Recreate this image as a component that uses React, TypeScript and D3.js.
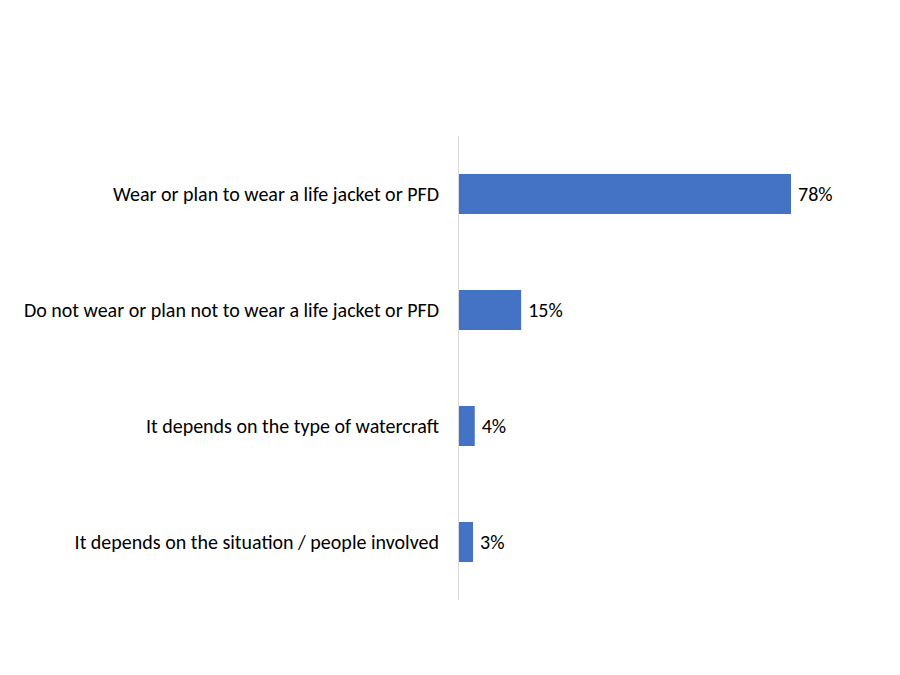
import { useRef, useEffect } from 'react';
import { select, scaleLinear, scaleBand } from 'd3';

// Chart data
const categories = [
    'Wear or plan to wear a life jacket or PFD',
    'Do not wear or plan not to wear a life jacket or PFD',
    'It depends on the type of watercraft',
    'It depends on the situation / people involved',
];
const values = [78, 14.6, 3.7, 3.3];
const valueLabels = ['78%', '15%', '4%', '3%'];

function App() {
    const graphRef = useRef<SVGSVGElement | null>(null);

    // Set dimensions
    const width = 900;
    const height = 675;
    const axisX = 459;
    const top = 136;
    const bottom = 600;

    useEffect(() => {
        const graph = select(graphRef.current);
        graph.selectAll('*').remove();

        const x = scaleLinear().domain([0, 78]).range([axisX, 791]);
        const y = scaleBand<number>()
            .domain(categories.map((_, i) => i))
            .range([top, bottom])
            .paddingInner(0.655)
            .paddingOuter(0.3275);

        const font = 'Carlito, Calibri, "Liberation Sans", sans-serif';

        // Bars
        graph
            .append('g')
            .selectAll('rect')
            .data(values)
            .join('rect')
            .attr('x', x(0))
            .attr('y', (d, i) => y(i) as number)
            .attr('width', (d) => x(d) - x(0))
            .attr('height', y.bandwidth())
            .attr('fill', '#4472C4');

        // Axis line
        graph
            .append('line')
            .attr('x1', axisX - 0.5)
            .attr('x2', axisX - 0.5)
            .attr('y1', top)
            .attr('y2', bottom)
            .attr('stroke', '#D9D9D9')
            .attr('stroke-width', 1);

        // Category labels
        graph
            .append('g')
            .selectAll('text')
            .data(categories)
            .join('text')
            .text((d) => d)
            .attr('x', axisX - 20)
            .attr('y', (d, i) => (y(i) as number) + y.bandwidth() / 2)
            .attr('dy', '0.35em')
            .attr('text-anchor', 'end')
            .style('font-family', font)
            .style('font-size', '20px')
            .style('fill', '#000');

        // Value labels
        graph
            .append('g')
            .selectAll('text')
            .data(values)
            .join('text')
            .text((d, i) => valueLabels[i])
            .attr('x', (d) => x(d) + 7)
            .attr('y', (d, i) => (y(i) as number) + y.bandwidth() / 2)
            .attr('dy', '0.35em')
            .style('font-family', font)
            .style('font-size', '20px')
            .style('fill', '#000');
    }, []);

    return (
        <div style={{ margin: '-8px' }}>
            <svg ref={graphRef} width={width} height={height} viewBox={`0 0 ${width} ${height}`}></svg>
        </div>
    );
}

export default App;
